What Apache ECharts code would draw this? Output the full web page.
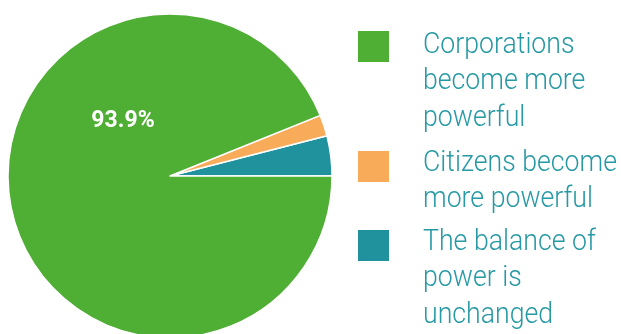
<!DOCTYPE html>
<html>
<head>
<meta charset="utf-8">
<script src="https://cdn.jsdelivr.net/npm/echarts@6/dist/echarts.min.js"></script>
<style>
  html, body { margin: 0; padding: 0; background: #ffffff; }
  #chart { width: 621px; height: 334px; }
</style>
</head>
<body>
<div id="chart"></div>
<script>
// Survey answers: who gains power
const categories = [
  'The balance of power is unchanged',
  'Citizens become more powerful',
  'Corporations become more powerful'
];
const shares = [4.0, 2.1, 93.9];
const colors = ['#1f929d', '#f8ac5a', '#4fae34'];

// Legend entries, top to bottom, with their wrapped captions
const legendOrder = [2, 1, 0];
const legendLines = [
  ['Corporations', 'become more', 'powerful'],
  ['Citizens become', 'more powerful'],
  ['The balance of', 'power is', 'unchanged']
];

const chart = echarts.init(document.getElementById('chart'), null, { renderer: 'canvas' });

const legendTops = [31, 151, 230];
const textTops = [27, 145, 224];
const legendGraphics = [];
legendOrder.forEach(function (idx, i) {
  legendGraphics.push({
    type: 'rect',
    left: 358,
    top: legendTops[i],
    shape: { width: 31, height: 31 },
    style: { fill: colors[idx] }
  });
  legendGraphics.push({
    type: 'text',
    x: 423,
    y: textTops[i],
    scaleX: 0.92,
    style: {
      text: legendLines[i].join('\n'),
      font: '300 29px Roboto',
      lineHeight: 36.5,
      fill: '#2699a4'
    }
  });
});

chart.setOption({
  animation: false,
  color: colors,
  graphic: legendGraphics,
  series: [{
    type: 'pie',
    center: [170, 176],
    radius: 162,
    startAngle: 0,
    clockwise: false,
    itemStyle: { borderColor: '#ffffff', borderWidth: 1.5 },
    label: { show: false },
    labelLine: { show: false },
    emphasis: { disabled: true },
    labelLayout: function (params) {
      if (params.dataIndex === 2) {
        return { x: 123, y: 121, align: 'center', verticalAlign: 'middle' };
      }
    },
    data: categories.map(function (name, i) {
      const item = { name: name, value: shares[i] };
      if (i === 2) {
        item.label = {
          show: true,
          position: 'inside',
          formatter: function (p) { return p.value.toFixed(1) + '%'; },
          color: '#ffffff',
          fontFamily: 'Roboto',
          fontWeight: 'bold',
          fontSize: 23
        };
      }
      return item;
    })
  }]
});
</script>
</body>
</html>
